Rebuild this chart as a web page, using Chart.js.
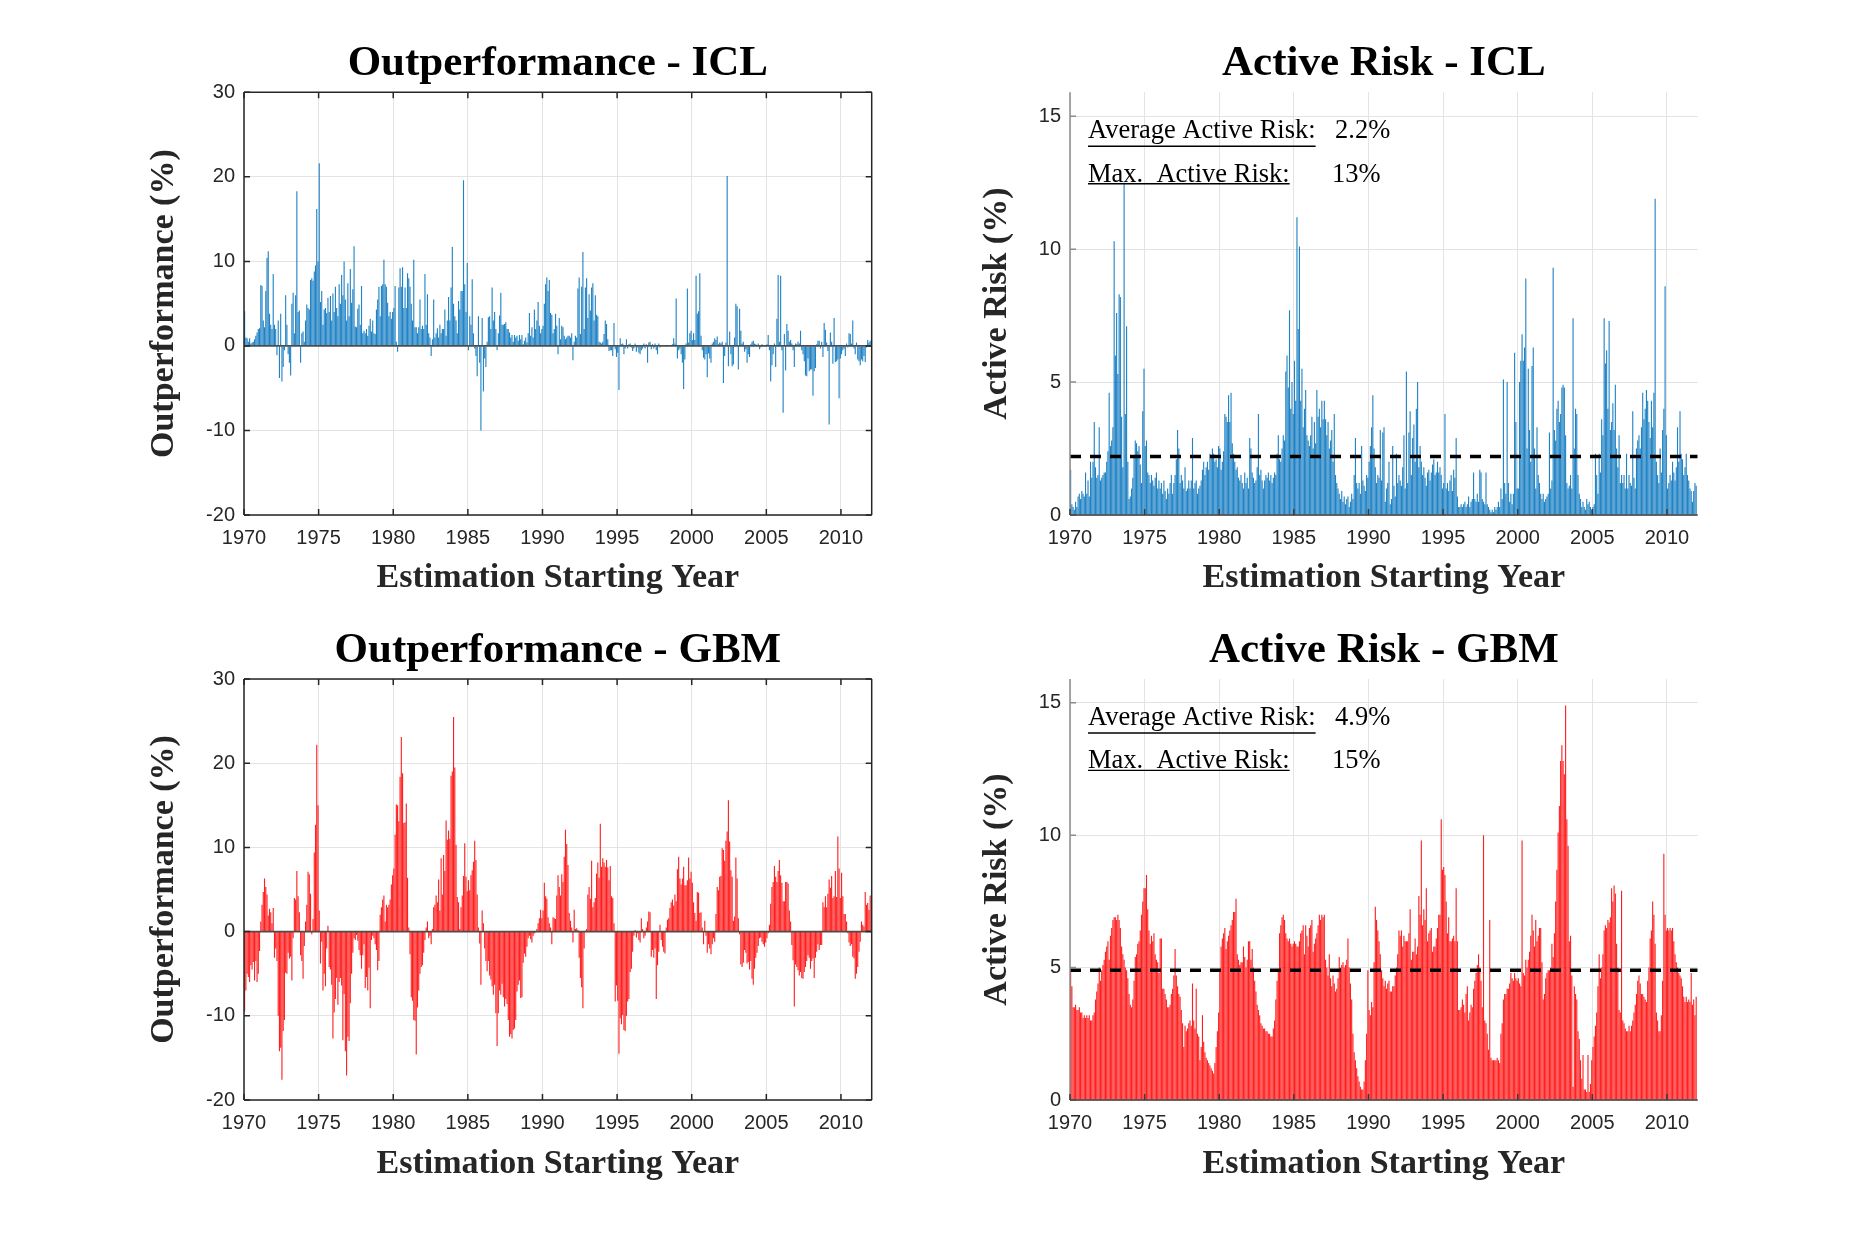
<!DOCTYPE html>
<html>
<head>
<meta charset="utf-8">
<script src="https://cdn.jsdelivr.net/npm/chart.js@4.4.1/dist/chart.umd.min.js"></script>
<style>
  html, body { margin: 0; padding: 0; background: #fff; }
  #page { position: relative; width: 1875px; height: 1238px; overflow: hidden; }
  #page canvas { position: absolute; }
</style>
</head>
<body>
<div id="page">
  <canvas id="opIcl" width="937" height="619" style="left:0;top:0"></canvas>
  <canvas id="arIcl" width="938" height="619" style="left:937px;top:0"></canvas>
  <canvas id="opGbm" width="937" height="619" style="left:0;top:619px"></canvas>
  <canvas id="arGbm" width="938" height="619" style="left:937px;top:619px"></canvas>
</div>
<script>
// monthly values, Jan 1970 .. Dec 2011 (one row per year)
const startYear = 1970;
const yearTicks = [1970, 1975, 1980, 1985, 1990, 1995, 2000, 2005, 2010];
const outperfTicks = [-20, -10, 0, 10, 20, 30];
const riskTicks = [0, 5, 10, 15];

const iclOutperf = [
  4.1, 1.0, 0.9, 0.5, 0.9, 0.3, 0.4, 0.5, 0.8, 1.2, 1.6, 2.0,
  2.1, 7.2, 7.1, 3.0, 2.2, 6.5, 10.4, 11.2, 3.8, 2.5, 2.0, 8.5,
  2.5, 2.0, -1.1, 3.0, -3.8, 3.8, -4.2, -2.5, -0.5, 6.0, 2.5, -1.0,
  -2.0, -3.5, 5.0, 6.3, 1.5, 6.0, 18.3, 4.0, 4.2, -2.0, 1.5, 1.7,
  0.5, 3.0, 4.9, 4.5, 4.3, 7.8, 8.0, 7.7, 8.8, 9.5, 16.2, 10.0,
  21.6, 5.2, 6.5, 2.5, 4.3, 4.5, 3.9, 5.7, 4.0, 5.9, 3.0, 6.2,
  4.0, 7.0, 4.5, 3.5, 7.3, 5.0, 8.4, 6.0, 10.0, 5.5, 3.0, 7.4,
  3.5, 9.1, 5.1, 6.7, 11.8, 2.3, 2.2, 4.4, 4.9, 2.5, 7.1, 1.5,
  1.8, 1.5, 2.0, 1.2, 2.4, 3.2, 1.7, 3.0, 1.5, 1.4, 4.3, 5.5,
  7.0, 3.5, 7.1, 7.3, 10.2, 7.3, 7.0, 5.1, 3.5, 4.0, 3.2, 4.0,
  4.5, 7.1, 0.5, -0.7, 6.9, 9.2, 7.0, 9.3, 4.5, 6.9, 4.5, 8.6,
  8.0, 7.0, 5.0, 3.0, 10.2, 2.2, 2.2, 1.5, 2.2, 5.5, 2.0, 2.4,
  2.0, 8.5, 2.5, 6.1, 1.5, 1.0, -1.2, 0.8, 5.5, 1.0, 1.5, 2.1,
  1.0, 2.5, 1.5, 2.0, 2.0, 4.3, 1.2, 3.0, 5.8, 3.0, 6.9, 11.7,
  5.0, 3.5, 3.0, 1.5, 5.3, 4.3, 6.5, 6.5, 19.6, 7.3, 4.0, 9.8,
  -0.5, 3.5, 2.5, 7.9, 1.5, -0.3, -1.2, -3.6, 3.5, -2.0, -10.0, 3.3,
  -5.4, -1.5, -2.5, 0.5, 3.4, 3.5, 2.0, 6.9, 3.0, 4.0, 2.0, -0.5,
  1.5, 3.6, 6.3, 2.5, 2.5, 2.6, 2.8, 2.0, 2.0, 1.6, 1.0, 1.3,
  0.5, 1.3, 1.0, 1.2, 0.6, 1.3, 0.8, 1.3, 0.2, 0.6, 1.0, 0.4,
  1.5, 3.9, 1.2, 2.2, 1.0, 4.3, 2.0, 3.0, 5.2, 2.4, 1.5, 2.0,
  2.4, 5.0, 7.3, 8.1, 6.5, 7.8, 3.9, 3.7, 1.5, 2.0, 3.8, 2.4,
  -1.0, 3.3, 0.8, 2.4, 2.2, 1.2, 0.8, 1.0, 1.2, 1.2, 1.0, 1.5,
  -1.7, 0.5, 1.2, 1.0, 6.8, 8.1, 1.4, 7.0, 11.1, 2.0, 6.9, 8.0,
  3.3, 6.1, 4.2, 6.9, 7.4, 3.0, 6.0, 3.7, 3.5, 0.5, 0.4, 0.3,
  0.5, 1.4, 3.0, 2.6, 0.8, -0.6, -0.5, -0.5, -1.2, 2.7, -0.4, -1.3,
  -0.8, -5.2, 0.9, 0.2, 0.3, -1.0, -0.3, 0.8, -0.3, 0.2, 0.3, -0.2,
  -0.6, -0.3, 0.3, -0.7, -0.2, -0.8, -1.0, -0.5, -0.3, 0.3, -0.3, 0.2,
  -2.0, 0.4, 0.5, -0.4, 0.2, -0.3, 0.3, -0.5, -1.0, 0.3, -0.2, 0.1,
  0.1, 0.1, 0.05, -0.1, 0.1, 0.05, 0.1, 0.1, 0.2, 0.9, 0.3, 5.6,
  -1.5, -0.5, -0.3, -1.0, -2.0, -5.1, -1.6, 0.3, 6.8, 0.4, 1.5, 1.8,
  0.7, 1.5, 0.7, 8.3, 3.8, 4.1, 8.6, 1.2, -0.5, -1.4, -1.6, -1.0,
  -3.7, -0.9, -1.5, -2.0, 0.3, 0.5, 0.9, 0.7, 1.1, 0.2, 0.4, 0.3,
  0.5, -4.4, -1.2, 0.4, 20.1, -2.4, 1.7, -1.0, -2.4, -2.2, 1.0, 5.0,
  4.7, -2.8, 4.4, 1.8, 0.3, 0.5, -0.7, -0.4, -2.0, -1.0, -1.3, 0.2,
  0.5, 0.6, 0.3, 0.2, 0.1, 0.3, -0.4, -0.2, 0.2, -0.1, 0.1, -0.1,
  0.2, 1.3, -0.5, -4.2, -2.3, -1.0, 0.3, -2.5, 3.2, 8.4, 0.5, 8.3,
  -0.5, -7.9, 1.4, -2.9, 2.6, 1.8, 0.5, 0.7, 0.3, -0.5, -2.5, 0.3,
  0.2, 0.5, 0.3, 1.8, -0.5, -1.0, -1.8, -3.5, -3.6, -1.5, -3.0, -2.8,
  -2.8, -5.9, -3.0, -2.6, 0.2, 0.6, 0.6, -0.3, 0.5, -1.3, 2.7, 1.9,
  0.4, -0.6, -9.3, 1.6, 0.5, -2.1, 3.3, -1.9, -1.8, -1.6, -6.2, -1.5,
  -1.0, -0.5, -0.3, -1.2, 0.3, -0.2, 1.5, 1.4, 0.3, 3.0, -0.3, -1.0,
  0.4, -1.6, -1.8, -2.3, -1.6, -1.8, -1.2, -1.9, -0.2, 0.7, 0.4, 0.6
];

const iclRisk = [
  1.7, 0.4, 0.3, 0.2, 0.5, 0.3, 0.7, 0.8, 0.6, 0.9, 0.8, 0.7,
  1.6, 0.8, 1.3, 0.7, 2.0, 1.4, 2.0, 3.5, 1.8, 1.4, 1.5, 3.3,
  1.3, 1.4, 1.5, 1.6, 1.6, 2.0, 2.4, 4.6, 2.6, 2.8, 3.3, 10.3,
  6.0, 7.6, 5.3, 8.3, 8.2, 3.7, 1.8, 12.5, 3.8, 7.1, 2.0, 0.6,
  0.7, 1.0, 1.4, 2.2, 2.8, 2.7, 2.4, 2.6, 1.9, 1.2, 3.9, 5.5,
  2.6, 2.8, 1.6, 1.5, 1.2, 1.5, 1.3, 1.1, 1.4, 1.6, 1.0, 1.3,
  1.0, 1.2, 0.8, 1.3, 0.9, 0.6, 1.0, 0.8, 1.2, 1.5, 0.8, 1.2,
  1.5, 2.1, 3.2, 2.5, 1.2, 1.5, 1.3, 1.0, 1.8, 0.9, 1.0, 1.3,
  1.0, 1.3, 2.9, 1.0, 1.2, 1.3, 0.8, 1.0, 1.1, 1.3, 1.7, 2.0,
  1.5, 1.8, 2.0, 1.7, 2.3, 2.2, 2.5, 2.3, 2.0, 2.1, 1.8, 2.6,
  2.5, 1.7, 2.0, 2.4, 3.8, 3.7, 3.5, 4.5, 3.5, 4.6, 2.7, 2.3,
  2.0, 1.7, 1.8, 1.4, 1.3, 1.5, 1.2, 1.0, 1.6, 1.2, 1.4, 1.0,
  2.9, 2.5, 1.6, 1.4, 1.2, 1.3, 1.8, 3.8, 1.5, 1.7, 1.3, 1.0,
  1.3, 1.5, 1.4, 1.6, 1.3, 1.5, 1.2, 1.4, 1.6, 1.5, 2.3, 3.0,
  2.1, 2.0, 2.5, 3.0, 2.8, 5.4, 6.0, 4.8, 7.7, 4.0, 5.0, 3.8,
  5.8, 4.3, 11.2, 7.0, 10.1, 4.3, 5.5, 3.3, 4.0, 4.7, 3.0, 2.8,
  2.6, 3.0, 3.7, 2.5, 3.5, 2.7, 4.7, 3.7, 4.0, 3.3, 4.3, 3.6,
  4.3, 3.6, 3.0, 3.5, 2.5, 2.8, 3.2, 2.0, 3.8, 1.5, 1.2, 1.0,
  0.8, 0.6, 0.9, 0.5, 0.7, 0.4, 0.6, 0.7, 0.3, 0.5, 0.8, 0.6,
  1.5, 2.9, 1.2, 1.0, 1.2, 0.8, 2.6, 1.3, 1.1, 0.9, 1.5, 1.4,
  2.0, 2.6, 3.3, 4.5, 2.5, 1.8, 1.2, 1.5, 1.4, 3.2, 1.3, 3.1,
  3.3, 0.5, 1.0, 1.2, 2.0, 0.4, 0.6, 2.6, 1.1, 0.7, 2.3, 1.2,
  1.5, 1.3, 1.1, 1.8, 3.0, 1.0, 5.4, 1.2, 3.1, 3.9, 1.5, 2.9,
  3.4, 2.0, 4.0, 5.0, 1.8, 2.6, 2.0, 1.5, 1.8, 1.4, 1.1, 1.6,
  1.7, 1.3, 1.6, 1.9, 2.1, 1.5, 1.6, 2.0, 1.6, 1.8, 1.5, 1.0,
  1.2, 3.8, 1.0, 1.2, 0.9, 1.3, 1.5, 0.9, 1.7, 1.4, 2.9, 0.7,
  0.3, 0.3, 0.4, 0.3, 0.4, 0.5, 0.3, 0.4, 0.7, 0.3, 0.5, 0.6,
  1.6, 0.6, 0.5, 0.8, 0.5, 1.7, 1.6, 0.6, 0.5, 0.4, 1.6, 0.4,
  0.3, 0.2, 0.1, 0.2, 0.1, 0.3, 0.2, 0.3, 0.5, 0.3, 1.0, 0.6,
  5.1, 1.2, 0.8, 5.0, 1.2, 0.5, 0.8, 0.4, 0.8, 6.1, 3.5, 1.0,
  1.0, 5.0, 5.8, 6.8, 5.8, 6.3, 8.9, 2.5, 5.5, 3.2, 2.0, 5.6,
  6.3, 2.5, 1.0, 3.3, 1.5, 1.2, 0.8, 0.6, 0.8, 0.5, 0.6, 0.7,
  0.8, 3.1, 1.0, 1.3, 9.3, 3.2, 2.8, 4.0, 4.3, 3.5, 3.8, 4.8,
  4.9, 4.8, 3.0, 1.2, 1.0, 1.1, 1.5, 1.0, 7.4, 2.5, 4.0, 3.8,
  1.5, 0.8, 0.6, 0.3, 0.5, 0.3, 0.2, 0.6, 0.4, 0.5, 0.3, 0.2,
  0.3, 0.4, 2.3, 1.5, 0.8, 2.3, 1.6, 3.6, 3.0, 7.4, 5.7, 6.2,
  4.0, 7.3, 3.2, 3.5, 4.2, 3.2, 4.9, 2.5, 1.8, 3.0, 1.2, 1.5,
  1.2, 1.5, 1.0, 2.3, 1.0, 1.5, 1.2, 1.1, 3.9, 1.4, 1.0, 2.5,
  2.8, 3.0, 2.5, 3.3, 4.6, 3.6, 4.0, 4.7, 4.3, 3.5, 2.9, 4.3,
  3.3, 4.6, 11.9, 2.0, 1.5, 1.2, 2.5, 1.6, 3.2, 4.0, 8.6, 3.0,
  1.0, 1.2, 1.5, 1.3, 2.0, 1.6, 1.3, 1.8, 3.3, 2.0, 3.9, 2.3,
  2.1, 1.5, 1.8, 2.3, 1.5, 1.3, 1.0, 0.9, 0.5, 0.9, 1.2, 1.1
];

const gbmOutperf = [
  -9.5, -7.0, -5.0, -5.4, -6.0, -4.0, -4.5, -3.6, -5.8, -3.5, -6.0, -5.0,
  -2.3, 1.2, 3.2, 4.7, 6.3, 5.3, 4.4, 1.9, 2.7, 2.3, 1.0, 2.8,
  -3.1, -2.0, -3.5, -10.0, -14.2, -13.8, -17.6, -11.8, -10.5, -4.9, -5.0, -2.5,
  -3.2, -3.0, -5.8, -0.8, 4.0, 3.8, 7.2, 4.2, 2.3, -2.8, -3.5, -5.6,
  -1.7, 1.2, 3.2, 7.1, 6.8, 4.5, -0.3, 1.5, 9.4, 12.7, 22.2, 15.0,
  2.5, -3.8, -1.2, -7.0, -5.0, -6.5, -2.0, 0.7, -4.2, -4.5, -6.3, -12.7,
  -9.6, -8.0, -5.5, -8.7, -6.0, -5.5, -6.4, -12.9, -7.4, -14.2, -17.1, -12.5,
  -13.0, -8.5, -5.0, -2.5, -0.8, -1.0, -0.4, -1.1, -2.2, -2.8, -4.4, -2.8,
  -1.5, -6.7, -5.4, -7.0, -4.3, -9.1, -1.0, -0.5, -0.8, -1.5, -2.2, -4.6,
  -3.5, 2.0, 2.9, 3.8, 4.3, 1.2, 3.2, 2.9, 3.2, 3.8, 5.6, 6.7,
  7.5, 11.5, 15.1, 15.0, 13.1, 18.4, 23.1, 18.8, 12.9, 13.0, 15.2, 6.4,
  0.5, -2.7, -7.8, -8.2, -10.5, -10.6, -14.6, -9.0, -7.0, -5.0, -4.2, -4.0,
  -2.5, -1.0, 0.5, 1.2, -0.8, -0.5, -1.5, 0.3, 2.9, 3.2, 4.3, 3.5,
  6.2, 2.5, 8.7, 4.4, 9.1, 7.2, 13.2, 10.9, 12.0, 11.0, 18.5, 19.0,
  25.5, 19.5, 10.3, 4.1, 3.5, 0.3, 2.9, 4.3, 6.6, 10.5, 6.5, 4.8,
  6.1, 4.9, 6.7, 7.3, 8.3, 10.8, 8.5, 4.4, 0.5, -1.4, -6.3, 2.5,
  1.0, -2.0, -3.5, -4.7, -3.5, -5.2, -5.7, -6.5, -7.5, -6.3, -9.7, -13.6,
  -9.7, -7.0, -7.5, -6.2, -7.8, -8.9, -8.0, -8.6, -10.5, -12.5, -12.2, -12.7,
  -11.7, -11.5, -10.5, -7.1, -6.3, -5.8, -7.9, -7.8, -3.7, -2.6, -3.0, -1.8,
  -0.8, -0.5, -0.9, -1.3, -0.5, -0.2, -0.1, 0.3, 1.0, 1.6, 2.6, 1.6,
  2.5, 5.8, 4.2, 3.9, 1.7, 1.0, 0.5, -1.5, 1.7, 1.6, 1.5, 4.3,
  6.7, 5.3, 4.3, 6.8, 5.9, 8.9, 12.1, 10.4, 7.9, 2.2, 1.3, 0.5,
  -1.3, 2.6, 0.3, 0.4, 0.2, -3.1, -5.5, -6.6, -9.1, -2.0, 0.1, 0.3,
  4.4, 5.3, 3.9, 8.4, 2.9, 3.5, 4.0, 6.9, 8.2, 6.4, 12.8, 7.7,
  8.7, 8.2, 7.7, 8.5, 7.6, 6.1, 7.8, 4.2, 4.0, 1.0, -8.3, -6.4,
  -8.2, -14.5, -10.3, -11.0, -9.9, -11.7, -11.8, -10.0, -8.3, -8.0, -4.8, -4.4,
  -2.4, -0.5, 0.2, -0.7, -0.2, -1.0, -1.3, 1.6, 0.3, -0.8, -0.5, 0.5,
  1.2, 2.4, 2.3, -3.0, -2.2, -3.1, -2.0, -8.0, -4.0, -2.4, 0.8, -1.0,
  -1.8, -2.4, -2.6, 0.5, 1.4, 1.6, 2.8, 3.5, 3.8, 3.1, 4.4, 3.6,
  7.4, 8.9, 6.3, 5.6, 6.3, 7.7, 5.5, 5.5, 6.1, 8.8, 6.3, 7.1,
  5.8, 3.5, 2.2, 1.3, 4.7, 4.6, 2.2, 2.3, 0.5, -1.5, 1.3, -0.5,
  -2.5, -1.5, -2.0, -2.7, -1.5, -0.8, -1.2, 2.1, 5.3, 4.9, 6.5, 6.6,
  9.9, 9.7, 8.4, 10.8, 11.9, 15.6, 10.7, 7.3, 6.5, 1.3, 1.8, 8.8,
  6.3, 1.6, -0.3, -3.9, -4.2, -3.7, -2.2, -2.5, -3.8, -3.6, -4.5, -3.5,
  -5.6, -6.3, -4.4, -3.1, -2.5, -1.7, -0.8, -0.7, -1.2, -1.5, -1.8, -1.3,
  -0.8, -0.2, 0.8, 3.3, 5.3, 5.9, 7.8, 6.5, 5.9, 7.2, 8.5, 6.7,
  5.8, 3.6, 3.6, 5.9, 5.9, 5.7, 2.5, 1.2, -1.6, -3.4, -8.9, -3.9,
  -4.2, -4.6, -5.2, -4.8, -5.5, -5.6, -4.8, -4.2, -3.5, -2.8, -3.1, -4.4,
  -3.5, -3.2, -5.5, -3.1, -2.4, -1.5, -2.2, -1.6, -1.6, 3.5, 2.9, 4.2,
  2.9, 4.5, 6.2, 5.2, 6.6, 4.0, 4.2, 7.2, 4.1, 11.3, 7.5, 4.0,
  7.0, 4.2, 2.1, 2.1, 1.2, -0.2, -1.3, -1.7, -1.5, -3.0, -3.2, -5.6,
  -5.0, -4.2, -2.4, -1.2, 1.2, 0.8, 0.6, 4.7, 3.2, 3.4, 2.6, 4.3
];

const gbmRisk = [
  4.9, 4.3, 3.5, 3.5, 3.6, 3.4, 3.4, 3.5, 3.3, 3.3, 3.1, 3.2,
  3.1, 3.2, 3.1, 3.2, 3.0, 3.0, 3.2, 3.3, 3.8, 4.1, 4.4, 5.0,
  4.5, 4.9, 5.1, 5.3, 5.6, 5.8, 6.0, 5.3, 6.2, 6.5, 6.8, 6.9,
  6.9, 6.8, 7.0, 6.8, 6.5, 5.8, 5.5, 5.3, 5.0, 4.9, 4.6, 4.0,
  3.6, 3.5, 3.8, 4.5, 5.4, 5.5, 5.9, 6.0, 6.4, 7.0, 7.5, 8.0,
  8.0, 8.5, 7.2, 6.4, 5.9, 6.2, 6.0, 6.3, 5.5, 5.3, 5.2, 4.8,
  6.1, 6.1, 4.2, 4.2, 4.0, 3.8, 3.5, 3.5, 3.6, 4.0, 4.2, 4.7,
  5.7, 4.7, 4.3, 4.0, 3.9, 3.4, 2.9, 2.0, 2.8, 2.6, 2.7, 2.9,
  3.0, 2.8, 4.4, 3.0, 2.7, 4.2, 2.5, 2.4, 1.5, 2.0, 3.2, 2.2,
  1.8, 1.6, 1.5, 1.4, 1.3, 1.2, 1.1, 1.0, 1.4, 2.0, 2.6, 3.3,
  4.9, 5.8, 6.1, 6.3, 6.5, 5.7, 6.0, 6.2, 6.4, 6.6, 6.8, 7.1,
  7.1, 7.6, 5.5, 5.3, 5.1, 5.2, 5.2, 5.8, 5.4, 5.0, 5.3, 6.0,
  6.0, 5.3, 5.7, 5.0, 4.5, 4.1, 3.6, 3.4, 3.2, 2.9, 2.8, 2.7,
  2.7, 2.6, 2.6, 2.5, 2.5, 2.4, 2.4, 2.7, 3.0, 3.8, 4.5, 4.9,
  6.3, 6.6, 6.9, 7.0, 6.8, 6.3, 6.1, 6.0, 6.1, 5.9, 5.8, 5.9,
  6.0, 5.9, 5.8, 5.8, 6.0, 6.3, 6.4, 6.6, 5.5, 6.6, 6.2, 5.8,
  6.5, 6.6, 6.8, 5.6, 5.9, 6.1, 6.3, 6.6, 7.0, 6.8, 7.0, 6.9,
  7.0, 5.3, 5.0, 4.7, 5.5, 4.6, 4.3, 4.7, 4.4, 4.1, 4.2, 4.6,
  5.4, 5.0, 5.1, 5.2, 5.0, 5.1, 5.3, 6.1, 5.0, 4.4, 3.8, 2.5,
  1.8, 1.5, 1.2, 0.9, 0.7, 0.5, 0.4, 0.4, 0.7, 1.5, 2.5, 4.9,
  3.4, 3.2, 3.7, 3.5, 5.2, 7.3, 6.8, 6.4, 6.0, 5.5, 4.9, 4.6,
  4.3, 4.5, 4.2, 4.4, 4.5, 4.1, 4.1, 4.3, 4.3, 4.7, 5.0, 5.5,
  6.4, 6.2, 6.4, 5.8, 6.2, 6.0, 6.0, 6.0, 6.3, 7.2, 5.3, 5.6,
  5.6, 6.1, 5.5, 5.8, 7.7, 7.0, 9.8, 6.6, 7.2, 6.8, 8.0, 6.0,
  6.3, 6.4, 6.5, 5.6, 5.8, 5.8, 6.1, 6.5, 7.0, 7.0, 10.6, 8.7,
  8.8, 8.5, 7.5, 6.3, 6.9, 6.0, 6.0, 6.1, 6.2, 6.0, 8.0, 6.0,
  3.4, 3.4, 3.5, 3.8, 3.6, 3.3, 4.0, 4.3, 3.0, 3.3, 3.6, 3.5,
  4.2, 4.5, 4.8, 5.1, 5.5, 5.0, 4.5, 3.5, 10.0, 3.0, 2.9, 2.5,
  1.9, 6.8, 1.6, 1.5, 1.5, 1.5, 1.5, 1.6, 1.5, 1.4, 2.5, 2.9,
  3.8, 4.0, 4.0, 4.2, 4.2, 4.4, 4.8, 4.6, 4.5, 4.8, 4.6, 4.5,
  4.6, 4.4, 4.3, 9.8, 4.8, 4.7, 5.3, 5.0, 5.3, 5.6, 6.2, 7.0,
  6.4, 5.8, 6.8, 6.0, 6.2, 6.5, 6.5, 5.2, 3.8, 4.0, 4.6, 4.8,
  4.9, 4.9, 5.0, 5.9, 5.4, 6.3, 7.5, 8.7, 10.1, 11.1, 12.8, 13.4,
  12.8, 12.3, 14.9, 10.6, 9.6, 6.0, 6.2, 4.7, 0.5, 4.3, 4.0, 3.8,
  2.6, 2.3, 1.5, 0.8, 1.7, 0.4, 0.4, 0.3, 1.7, 0.3, 0.6, 1.5,
  2.0, 2.4, 2.8, 3.3, 4.3, 5.5, 4.6, 5.0, 5.5, 6.4, 6.6, 6.5,
  6.8, 6.7, 6.9, 8.0, 7.5, 8.1, 7.8, 5.9, 5.0, 3.4, 3.3, 7.9,
  3.0, 2.9, 2.7, 2.6, 2.6, 2.8, 2.6, 2.8, 3.0, 3.3, 3.6, 4.0,
  4.5, 4.7, 4.4, 4.0, 4.0, 3.9, 3.8, 3.7, 4.5, 5.0, 6.1, 6.4,
  7.5, 7.0, 5.9, 3.3, 3.0, 2.6, 2.6, 3.2, 4.5, 9.3, 7.0, 6.4,
  6.5, 6.4, 6.5, 6.4, 6.5, 6.0, 5.5, 5.2, 5.0, 4.8, 4.7, 4.6,
  4.3, 3.9, 3.7, 3.9, 3.7, 3.8, 3.7, 4.8, 3.6, 3.8, 3.2, 3.9
];

const iclAvgRisk = 2.2, iclMaxRisk = 13;
const gbmAvgRisk = 4.9, gbmMaxRisk = 15;

const xMin = 1970, xMax = 2012.06;
const serif = '"Liberation Serif", "Times New Roman", serif';
const sans = '"Liberation Sans", Arial, sans-serif';

function monthly(values) {
  return values.map((v, i) => ({ x: startYear + (i + 0.5) / 12, y: v }));
}

// MATLAB style axes: inward ticks, optional full box
const axesFrame = {
  id: 'axesFrame',
  afterDatasetsDraw(chart, args, o) {
    const { ctx, chartArea: a, scales } = chart;
    const len = 6;
    ctx.save();
    ctx.lineWidth = 1.5;
    ctx.strokeStyle = o.leftColor;
    ctx.beginPath();
    ctx.moveTo(a.left, a.top);
    ctx.lineTo(a.left, a.bottom);
    scales.y.ticks.forEach(t => {
      const p = scales.y.getPixelForValue(t.value);
      ctx.moveTo(a.left, p);
      ctx.lineTo(a.left + len, p);
      if (o.box) {
        ctx.moveTo(a.right, p);
        ctx.lineTo(a.right - len, p);
      }
    });
    if (o.box) {
      ctx.moveTo(a.right, a.top);
      ctx.lineTo(a.right, a.bottom);
    }
    ctx.stroke();
    ctx.strokeStyle = o.bottomColor;
    ctx.beginPath();
    ctx.moveTo(a.left, a.bottom);
    ctx.lineTo(a.right, a.bottom);
    scales.x.ticks.forEach(t => {
      const p = scales.x.getPixelForValue(t.value);
      ctx.moveTo(p, a.bottom);
      ctx.lineTo(p, a.bottom - len);
      if (o.box) {
        ctx.moveTo(p, a.top);
        ctx.lineTo(p, a.top + len);
      }
    });
    if (o.box) {
      ctx.moveTo(a.left, a.top);
      ctx.lineTo(a.right, a.top);
    }
    ctx.stroke();
    ctx.restore();
  }
};

// the two underlined text lines in the active risk panels
const riskNote = {
  id: 'riskNote',
  afterDraw(chart, args, o) {
    if (!o.lines) return;
    const { ctx, chartArea: a } = chart;
    ctx.save();
    ctx.font = '26.5px ' + serif;
    ctx.fillStyle = '#000';
    ctx.strokeStyle = '#000';
    ctx.lineWidth = 1.4;
    ctx.textBaseline = 'alphabetic';
    o.lines.forEach(l => {
      const x = a.left + 18, y = a.top + l.dy;
      ctx.fillText(l.label, x, y);
      const w = ctx.measureText(l.label).width;
      ctx.beginPath();
      ctx.moveTo(x, y + l.ul);
      ctx.lineTo(x + w, y + l.ul);
      ctx.stroke();
      ctx.fillText(l.value, a.left + l.vx, y);
    });
    ctx.restore();
  }
};

function panel(id, c) {
  return new Chart(document.getElementById(id), {
    type: 'bar',
    data: {
      datasets: [
        {
          type: 'bar',
          data: monthly(c.values),
          backgroundColor: c.fill,
          borderWidth: 0,
          barPercentage: 0.9,
          categoryPercentage: 1,
          grouped: false,
          order: 2
        },
        {
          type: 'line',
          data: [{ x: xMin, y: c.refY }, { x: xMax, y: c.refY }],
          borderColor: c.refColor,
          borderWidth: c.refWidth,
          borderDash: c.refDash,
          pointRadius: 0,
          order: 1
        }
      ]
    },
    options: {
      responsive: false,
      animation: false,
      events: [],
      layout: { padding: c.pad },
      plugins: {
        legend: { display: false },
        tooltip: { enabled: false },
        title: {
          display: true,
          fullSize: false,
          text: c.title,
          color: '#000',
          font: { family: serif, size: 43, weight: 'bold' },
          padding: c.titlePad
        },
        axesFrame: c.frame,
        riskNote: c.note || {}
      },
      scales: {
        x: {
          type: 'linear',
          min: xMin,
          max: xMax,
          offset: false,
          afterBuildTicks: s => { s.ticks = yearTicks.map(v => ({ value: v })); },
          afterFit: s => { s.height = c.xHeight; },
          ticks: {
            autoSkip: false,
            maxRotation: 0,
            padding: 11,
            color: '#262626',
            font: { family: sans, size: 20 },
            callback: v => String(v)
          },
          grid: { color: '#e3e3e3', lineWidth: 1, drawTicks: false, offset: false },
          border: { display: false },
          title: {
            display: true,
            text: 'Estimation Starting Year',
            color: '#262626',
            font: { family: serif, size: 34, weight: 'bold' },
            padding: { top: 0, bottom: c.xTitleGap }
          }
        },
        y: {
          min: c.yMin,
          max: c.yMax,
          afterBuildTicks: s => { s.ticks = c.yTicks.map(v => ({ value: v })); },
          afterFit: s => { s.width = c.yWidth; },
          ticks: {
            padding: 9,
            color: '#262626',
            font: { family: sans, size: 20 },
            callback: v => String(v)
          },
          grid: { color: '#e3e3e3', lineWidth: 1, drawTicks: false },
          border: { display: false },
          title: {
            display: true,
            text: c.yTitle,
            color: '#262626',
            font: { family: serif, size: 34, weight: 'bold' },
            padding: { top: c.yTitleGap, bottom: 0 }
          }
        }
      }
    },
    plugins: [axesFrame, riskNote]
  });
}

const boxFrame = { box: true, leftColor: '#262626', bottomColor: '#262626' };
const openFrame = { box: false, leftColor: '#8c8c8c', bottomColor: '#3a3a3a' };
const zeroLine = { refY: 0, refColor: '#4d4d4d', refWidth: 1.6, refDash: [] };

function noteLines(avg, max) {
  return [
    { label: 'Average Active Risk:', value: avg + '%', dy: 45.5, ul: 8.5, vx: 265 },
    { label: 'Max.  Active Risk:', value: max + '%', dy: 89.4, ul: 2, vx: 262 }
  ];
}

panel('opIcl', Object.assign({
  values: iclOutperf, fill: 'rgba(0,114,189,0.88)', title: 'Outperformance - ICL',
  yTitle: 'Outperformance (%)', yMin: -20, yMax: 30, yTicks: outperfTicks,
  pad: { left: 134, right: 65.3, top: 0, bottom: 0 }, yWidth: 110, yTitleGap: 10.1,
  titlePad: { top: 38.2, bottom: 2.5 }, xHeight: 104, xTitleGap: 20.6, frame: boxFrame
}, zeroLine));

panel('arIcl', {
  values: iclRisk, fill: 'rgba(0,114,189,0.88)', title: 'Active Risk - ICL',
  yTitle: 'Active Risk (%)', yMin: 0, yMax: 15.9, yTicks: riskTicks,
  pad: { left: 30, right: 177.3, top: 0, bottom: 0 }, yWidth: 103, yTitleGap: 9.6,
  titlePad: { top: 38.2, bottom: 2.5 }, xHeight: 104, xTitleGap: 20.6, frame: openFrame,
  refY: iclAvgRisk, refColor: '#000', refWidth: 3.3, refDash: [11, 9],
  note: { lines: noteLines(iclAvgRisk, iclMaxRisk) }
});

panel('opGbm', Object.assign({
  values: gbmOutperf, fill: 'rgba(255,0,0,0.88)', title: 'Outperformance - GBM',
  yTitle: 'Outperformance (%)', yMin: -20, yMax: 30, yTicks: outperfTicks,
  pad: { left: 134, right: 65.3, top: 0, bottom: 0 }, yWidth: 110, yTitleGap: 10.1,
  titlePad: { top: 5.9, bottom: 2.5 }, xHeight: 138, xTitleGap: 52.9, frame: boxFrame
}, zeroLine));

panel('arGbm', {
  values: gbmRisk, fill: 'rgba(255,0,0,0.88)', title: 'Active Risk - GBM',
  yTitle: 'Active Risk (%)', yMin: 0, yMax: 15.9, yTicks: riskTicks,
  pad: { left: 30, right: 177.3, top: 0, bottom: 0 }, yWidth: 103, yTitleGap: 9.6,
  titlePad: { top: 5.9, bottom: 2.5 }, xHeight: 138, xTitleGap: 52.9, frame: openFrame,
  refY: gbmAvgRisk, refColor: '#000', refWidth: 3.3, refDash: [11, 9],
  note: { lines: noteLines(gbmAvgRisk, gbmMaxRisk) }
});
</script>
</body>
</html>
